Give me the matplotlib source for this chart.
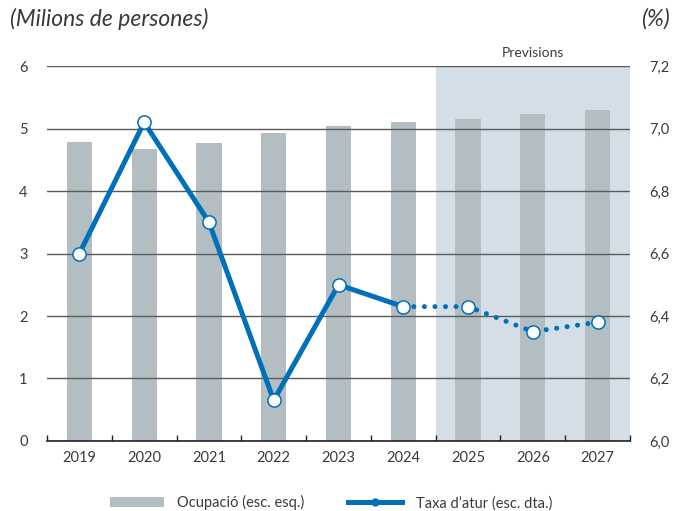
import matplotlib
matplotlib.use("Agg")
import matplotlib.pyplot as plt
from matplotlib.lines import Line2D
from matplotlib.patches import Patch
import numpy as np

plt.rcParams['font.family'] = ['Lato', 'DejaVu Sans']

years = ['2019', '2020', '2021', '2022', '2023', '2024', '2025', '2026', '2027']
ocupacio = [4.78, 4.67, 4.77, 4.93, 5.04, 5.10, 5.15, 5.23, 5.30]
atur = [6.60, 7.02, 6.70, 6.13, 6.50, 6.43, 6.43, 6.35, 6.38]
left_ticks = [0, 1, 2, 3, 4, 5, 6]
right_ticks = [6.0, 6.2, 6.4, 6.6, 6.8, 7.0, 7.2]
right_labels = ['6,0', '6,2', '6,4', '6,6', '6,8', '7,0', '7,2']
n_hist = 6  # 2019-2024 observed

BAR = '#b3bec3'
SHADE = '#d3dee6'
BLUE = '#0070b8'
TXT = '#3a3a3a'

fig = plt.figure(figsize=(6.8, 5.11), dpi=100)
ax = fig.add_axes([0.0691, 0.137, 0.8574, 0.7338])
x = np.arange(len(years))

ax.axvspan(n_hist - 0.5, len(years) - 0.5, color=SHADE, zorder=0, lw=0)
ax.bar(x, ocupacio, width=0.39, color=BAR, zorder=1)
ax.set_ylim(0, 6)
ax.set_xlim(-0.5, len(years) - 0.5)
ax.set_yticks(left_ticks)
ax.yaxis.grid(True, color='#5a5a5a', lw=1.0, zorder=1.5)
ax.set_axisbelow(False)
for s in ['top', 'left', 'right']:
    ax.spines[s].set_visible(False)
ax.spines['bottom'].set_color('#222222')
ax.spines['bottom'].set_linewidth(1.2)
ax.spines['bottom'].set_zorder(3)
ax.set_xticks(x)
ax.set_xticklabels(years)
ax.set_xticks(np.arange(-0.5, len(years)), minor=True)
ax.tick_params(axis='x', which='major', length=0, pad=7, labelsize=10.5, labelcolor=TXT)
ax.tick_params(axis='x', which='minor', direction='in', length=4, width=1, color='#222222')
ax.tick_params(axis='y', length=0, pad=14, labelsize=10.5, labelcolor=TXT)

ax2 = ax.twinx()
ax2.set_ylim(6.0, 7.2)
ax2.set_yticks(right_ticks)
ax2.set_yticklabels(right_labels)
ax2.tick_params(axis='y', length=0, pad=14, labelsize=10.5, labelcolor=TXT)
for s in ax2.spines.values():
    s.set_visible(False)

ax2.plot(x[:n_hist], atur[:n_hist], color=BLUE, lw=3.6, solid_joinstyle='miter', zorder=3)
ax2.plot(x[n_hist - 1:], atur[n_hist - 1:], color=BLUE, lw=3.6,
         linestyle=(0, (0.01, 2.1)), dash_capstyle='round', zorder=3)
ax2.plot(x, atur, linestyle='none', marker='o', markersize=9.5,
         markerfacecolor='white', markeredgecolor=BLUE, markeredgewidth=1.1, zorder=4)

fig.text(0.014, 0.963, '(Milions de persones)', fontsize=16.5, style='italic',
         color=TXT, ha='left', va='center')
fig.text(0.985, 0.963, '(%)', fontsize=16.5, style='italic', color=TXT, ha='right', va='center')
ax.text((n_hist - 0.5 + len(years) - 0.5) / 2, 6.12, 'Previsions', ha='center', va='bottom',
        fontsize=10, color=TXT)

handles = [Patch(facecolor=BAR, edgecolor='none'),
           Line2D([0], [0], color=BLUE, lw=3.6, marker='o', markersize=5,
                  markerfacecolor=BLUE, markeredgecolor=BLUE)]
leg = fig.legend(handles, ['Ocupació (esc. esq.)', 'Taxa d’atur (esc. dta.)'],
                 loc='center', bbox_to_anchor=(0.487, 0.016), ncol=2, frameon=False,
                 fontsize=10.5, handlelength=3.7, handleheight=0.7, columnspacing=3.0,
                 handletextpad=0.9)
for t in leg.get_texts():
    t.set_color(TXT)

fig.savefig('out.png', dpi=100)
